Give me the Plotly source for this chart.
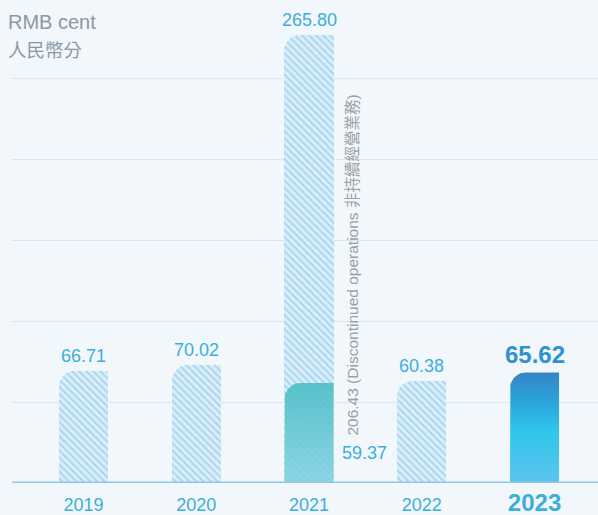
import math
import plotly.graph_objects as go

# ---------------- data ----------------
years = ["2019", "2020", "2021", "2022", "2023"]
eps_total = [66.71, 70.02, 265.80, 60.38, 65.62]
hatched_years = ["2019", "2020", "2021", "2022"]
continuing_2021 = 59.37
discontinued_2021 = 206.43
gridvals = [48, 96, 144, 192, 240]

# ---------------- geometry / style ----------------
W, H = 598, 515
ML, MR, MT, MB = 12, 0, 0, 32
XR = [-0.634, 4.563]
YR = [0, 286.6]
BAR_W = 0.435
RADIUS_PX = 16
px_per_x = (W - ML - MR) / (XR[1] - XR[0])
px_per_y = (H - MT - MB) / (YR[1] - YR[0])

FONT = "Liberation Sans, Arial, Noto Sans CJK TC, sans-serif"
BLUE_TXT = "#3caedb"
pattern = dict(shape="\\", fgcolor="#74bdea", bgcolor="#dbeef8", size=5, solidity=0.4)

pos = {y: i for i, y in enumerate(years)}


def rounded_bar(xc, top, halfw, n=14):
    rx = RADIUS_PX / px_per_x
    ry = RADIUS_PX / px_per_y
    xs, ys = [xc - halfw], [0]
    cx, cy = xc - halfw + rx, top - ry
    for k in range(n + 1):
        t = math.pi - (math.pi / 2) * k / n
        xs.append(cx + rx * math.cos(t))
        ys.append(cy + ry * math.sin(t))
    xs += [xc + halfw, xc + halfw, xc - halfw]
    ys += [top, 0, 0]
    return xs, ys


fig = go.Figure()

hx = [pos[y] for y in hatched_years]
hy = [eps_total[pos[y]] for y in hatched_years]

# hatched bars, rounded top corners
fig.add_trace(go.Bar(x=hx, y=hy, width=BAR_W, marker=dict(pattern=pattern, color="#dbeef8",
                                                          line=dict(width=0), cornerradius=RADIUS_PX),
                     hoverinfo="skip"))
# square right half to keep only the top-left corner rounded
fig.add_trace(go.Bar(x=hx, y=hy, width=BAR_W / 2, offset=0,
                     marker=dict(pattern=pattern, color="#dbeef8", line=dict(width=0)),
                     hoverinfo="skip"))

# 2021 continuing operations part (teal gradient over hatch)
xs, ys = rounded_bar(pos["2021"], continuing_2021, BAR_W / 2)
fig.add_trace(go.Scatter(x=xs, y=ys, mode="lines", line=dict(width=0), fill="toself",
                         fillcolor="rgba(80,192,200,0.88)",
                         fillgradient=dict(type="vertical",
                                           colorscale=[[0, "rgba(128,210,226,0.86)"],
                                                       [1, "rgba(74,189,198,0.9)"]]),
                         hoverinfo="skip"))

# 2023 bar gradient
xs, ys = rounded_bar(pos["2023"], eps_total[pos["2023"]], BAR_W / 2)
fig.add_trace(go.Scatter(x=xs, y=ys, mode="lines", line=dict(width=0), fill="toself",
                         fillcolor="#30b8e8",
                         fillgradient=dict(type="vertical",
                                           colorscale=[[0, "#5cc4ef"], [0.45, "#33c6ec"],
                                                       [0.75, "#2aa3d9"], [1, "#3684c6"]]),
                         hoverinfo="skip"))

annotations = []
for i, (yr, v) in enumerate(zip(years, eps_total)):
    bold = yr == "2023"
    annotations.append(dict(
        x=i, y=v, xref="x", yref="y", yanchor="bottom", yshift=3 if not bold else 2,
        text=(f"<b>{v:.2f}</b>" if bold else f"{v:.2f}"), showarrow=False,
        font=dict(family=FONT, size=24 if bold else 18, color="#2f91d0" if bold else BLUE_TXT)))

annotations.append(dict(x=pos["2021"], y=129, xref="x", yref="y", xshift=43,
                        text=f"{discontinued_2021:.2f} (Discontinued operations 非持續經營業務)",
                        textangle=-90, showarrow=False,
                        font=dict(family=FONT, size=15.5, color="#9a9fa3")))
annotations.append(dict(x=pos["2021"], y=18, xref="x", yref="y", xshift=55,
                        text=f"{continuing_2021:.2f}", showarrow=False,
                        font=dict(family=FONT, size=18, color=BLUE_TXT)))
annotations.append(dict(x=0, y=1, xref="paper", yref="paper", xanchor="left", yanchor="top",
                        xshift=-6, yshift=-9, text="RMB cent", showarrow=False,
                        font=dict(family=FONT, size=20, color="#8a99a4")))
annotations.append(dict(x=0, y=1, xref="paper", yref="paper", xanchor="left", yanchor="top",
                        xshift=-6, yshift=-34, text="人民幣分", showarrow=False,
                        font=dict(family="Noto Sans CJK TC, sans-serif", size=18.5, color="#8a99a4")))

ticktext = [("<b><span style='font-size:24px'>%s</span></b>" % y) if y == "2023" else y for y in years]

fig.update_layout(
    width=W, height=H, margin=dict(l=ML, r=MR, t=MT, b=MB),
    paper_bgcolor="#f1f7fa", plot_bgcolor="#f1f7fa",
    barmode="overlay", showlegend=False, bargap=0,
    xaxis=dict(range=XR, tickvals=list(range(len(years))), ticktext=ticktext,
               showgrid=False, zeroline=False, showline=False, ticks="",
               ticklabelstandoff=9,
               tickfont=dict(family=FONT, size=18, color=BLUE_TXT), fixedrange=True),
    yaxis=dict(range=YR, tickvals=gridvals, showticklabels=False, ticks="",
               gridcolor="#d4e9f5", gridwidth=1, zeroline=False, showline=False, fixedrange=True),
    shapes=[dict(type="line", xref="paper", yref="y", x0=0, x1=1, y0=0, y1=0,
                 line=dict(color="#93c6e8", width=3), layer="above")],
    annotations=annotations,
)

fig.write_html("out.html", config={"displayModeBar": False},
               post_script="document.body.style.margin='0px';document.body.style.overflow='hidden';")
